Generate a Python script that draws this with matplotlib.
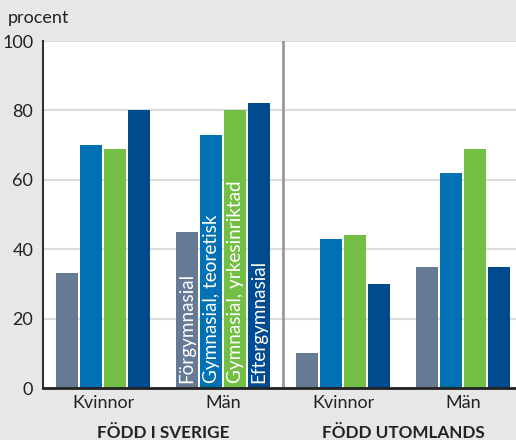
import numpy as np
import matplotlib.pyplot as plt

plt.rcParams['font.family'] = ['Lato', 'DejaVu Sans']

groups = ['Kvinnor', 'Män', 'Kvinnor', 'Män']
sections = ['FÖDD I SVERIGE', 'FÖDD UTOMLANDS']
series = ['Förgymnasial', 'Gymnasial, teoretisk', 'Gymnasial, yrkesinriktad', 'Eftergymnasial']
forgymnasial = [33, 45, 10, 35]
gym_teoretisk = [70, 73, 43, 62]
gym_yrke = [69, 80, 44, 69]
eftergymnasial = [80, 82, 30, 35]
colors = ['#667a96', '#0071b3', '#72bf44', '#004b8d']

values = [forgymnasial, gym_teoretisk, gym_yrke, eftergymnasial]

fig = plt.figure(figsize=(5.16, 4.4), dpi=100)
fig.patch.set_facecolor('#e6e7e6')
ax = fig.add_axes([43/516, 1 - 388/440, 1 - 43/516, (388 - 41)/440])
ax.set_facecolor('white')

x = np.arange(len(groups))
step = 0.2
width = 0.183
for i, (vals, c) in enumerate(zip(values, colors)):
    pos = x + (i - 1.5) * step
    ax.bar(pos, vals, width=width, color=c, zorder=3)
    # series labels inside the second group's bars
    ax.text(pos[1], 1.5, series[i], rotation=90, color='white', ha='center', va='bottom',
            fontsize=13.6, zorder=4)

ax.set_xlim(-0.5, 3.44)
ax.set_ylim(0, 100)
ax.set_yticks([0, 20, 40, 60, 80, 100])
ax.tick_params(axis='y', length=0, labelsize=13, colors='#222222', pad=7)
ax.tick_params(axis='x', length=0, labelsize=13, colors='#222222', pad=5)
ax.set_xticks(x)
ax.set_xticklabels(groups)
ax.grid(axis='y', color='#dcdcdc', linewidth=1.5, zorder=0)
ax.axvline(1.5, color='#999999', linewidth=2, zorder=5)

for s in ['top', 'right']:
    ax.spines[s].set_visible(False)
ax.spines['left'].set_color('#333333')
ax.spines['left'].set_linewidth(1.5)
ax.spines['bottom'].set_color('#222222')
ax.spines['bottom'].set_linewidth(2)
ax.spines['bottom'].set_zorder(6)

for j, name in enumerate(sections):
    ax.text(0.5 + 2 * j, -0.13, name, transform=ax.get_xaxis_transform(), ha='center',
            va='center', fontsize=12.3, fontweight='bold', color='#222222')

fig.text(8/516, 1 - 18/440, 'procent', fontsize=13, color='#222222', va='center', ha='left')

fig.savefig('out.png', dpi=100, facecolor=fig.get_facecolor())
